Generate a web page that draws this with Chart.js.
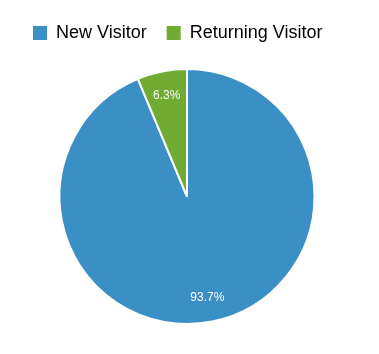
<!DOCTYPE html>
<html>
<head>
<meta charset="UTF-8">
<script src="https://cdn.jsdelivr.net/npm/chart.js"></script>
<style>
  html, body { margin: 0; padding: 0; background: #fff; }
  #wrap { width: 379px; height: 354px; }
</style>
</head>
<body>
<div id="wrap"><canvas id="pie"></canvas></div>
<script>
const labels = ['New Visitor', 'Returning Visitor'];
const values = [93.7, 6.3];
const colors = ['#3a8fc5', '#70ab34'];

// percent labels inside each slice
const sliceLabels = {
  id: 'sliceLabels',
  afterDatasetsDraw(chart) {
    const ctx = chart.ctx;
    const meta = chart.getDatasetMeta(0);
    const total = values.reduce((a, b) => a + b, 0);
    ctx.save();
    ctx.fillStyle = '#fff';
    ctx.font = '12px "Liberation Sans", Arial, sans-serif';
    ctx.textAlign = 'center';
    ctx.textBaseline = 'middle';
    meta.data.forEach((arc, i) => {
      const mid = (arc.startAngle + arc.endAngle) / 2;
      const r = arc.outerRadius * 0.81;
      const x = arc.x + Math.cos(mid) * r;
      const y = arc.y + Math.sin(mid) * r;
      ctx.fillText((values[i] / total * 100).toFixed(1) + '%', x, y);
    });
    ctx.restore();
  }
};

// extra room under the legend
const legendGap = {
  id: 'legendGap',
  beforeInit(chart) {
    const fit = chart.legend.fit;
    chart.legend.fit = function () {
      fit.bind(chart.legend)();
      this.height += 16;
    };
  }
};

new Chart(document.getElementById('pie'), {
  type: 'pie',
  data: {
    labels: labels,
    datasets: [{
      data: values,
      backgroundColor: colors,
      borderColor: '#fff',
      borderWidth: 2
    }]
  },
  options: {
    responsive: true,
    maintainAspectRatio: false,
    animation: false,
    layout: { padding: { top: 4, bottom: 29, left: 13, right: 18 } },
    plugins: {
      legend: {
        position: 'top',
        align: 'start',
        labels: {
          boxWidth: 14,
          boxHeight: 14,
          padding: 20,
          color: '#000',
          font: { size: 18, family: '"Liberation Sans", Arial, sans-serif' },
          generateLabels(chart) {
            return labels.map((t, i) => ({
              text: t,
              fillStyle: colors[i],
              strokeStyle: colors[i],
              lineWidth: 0,
              index: i,
              hidden: false
            }));
          }
        }
      },
      tooltip: { enabled: false }
    }
  },
  plugins: [sliceLabels, legendGap]
});
</script>
</body>
</html>
